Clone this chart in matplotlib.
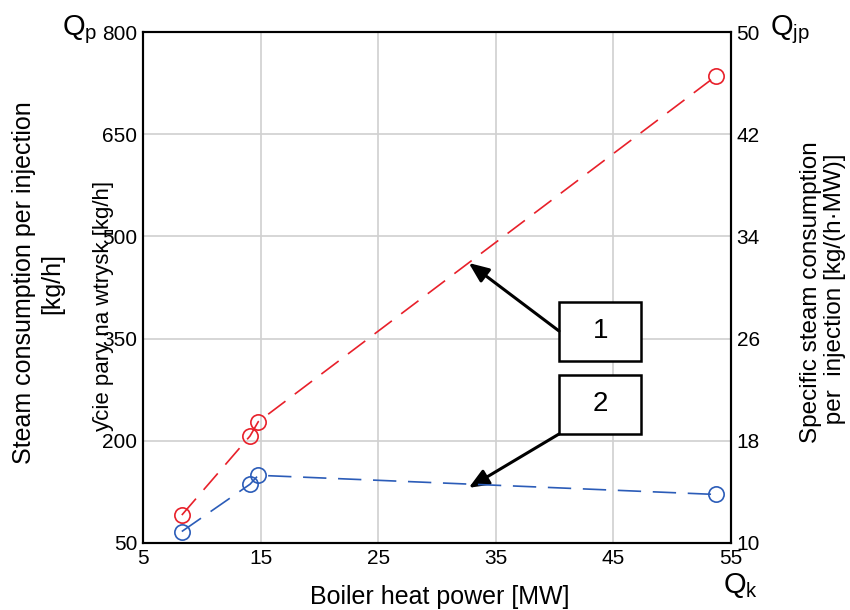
import matplotlib
matplotlib.use("Agg")
import matplotlib.pyplot as plt
from matplotlib.patches import Rectangle

plt.rcParams['font.family'] = ['Liberation Sans', 'DejaVu Sans']
plt.rcParams['mathtext.fontset'] = 'custom'
plt.rcParams['mathtext.rm'] = 'Liberation Sans'

#data
power = [8.3, 14.1, 14.8, 53.7]
steam = [91, 207, 228, 735]
specific = [10.9, 14.6, 15.3, 13.8]

xticks = [5, 15, 25, 35, 45, 55]
yticks_left = [50, 200, 350, 500, 650, 800]
yticks_right = [10, 18, 26, 34, 42, 50]

red = '#e8202a'
blue = '#2b5cb8'

#set up figure
fig = plt.figure(figsize=(8.5, 6.1), dpi=100)
ax = fig.add_axes([143/850, 67/610, 588/850, 511/610])
ax2 = ax.twinx()

#lines
ax.plot(power, steam, color=red, lw=1.2, dashes=(13, 7),
        marker='o', ms=11, mfc='none', mec=red, mew=1.2)
ax2.plot(power, specific, color=blue, lw=1.2, dashes=(14, 7),
         marker='o', ms=11, mfc='none', mec=blue, mew=1.2)

#axes
ax.set_xlim(5, 55)
ax.set_ylim(50, 800)
ax2.set_ylim(10, 50)
ax.set_xticks(xticks)
ax.set_yticks(yticks_left)
ax2.set_yticks(yticks_right)
ax.grid(True, color='#d0d0d0', lw=1.2)
ax.set_axisbelow(True)
ax.tick_params(length=0, labelsize=15, pad=4)
ax2.tick_params(length=0, labelsize=15, pad=4)
for a in (ax, ax2):
    for s in a.spines.values():
        s.set_linewidth(1.5)
        s.set_color('black')

#labels
fig.text(0.045, 1 - 283/610, "Steam consumption per injection\n[kg/h]",
         rotation=90, ha='center', va='center', multialignment='center', fontsize=18)
fig.text(103/850, 1 - 306/610, "ƴcie pary na wtrysk [kg/h]",
         rotation=90, ha='center', va='center', fontsize=16)
fig.text(823/850, 1 - 292/610, "Specific steam consumption\n per  injection [kg/(h·MW)]",
         rotation=90, ha='center', va='center', multialignment='center',
         fontsize=17.5, linespacing=1.1)
fig.text(440/850, 1 - 597/610, "Boiler heat power [MW]",
         ha='center', va='center', fontsize=18)
fig.text(62/850, 1 - 30/610, r"Q$_{\rm p}$", ha='left', va='center', fontsize=21)
fig.text(770/850, 1 - 30/610, r"Q$_{\rm jp}$", ha='left', va='center', fontsize=21)
fig.text(723/850, 1 - 585/610, r"Q$_{\rm k}$", ha='left', va='center', fontsize=21)

#boxes with arrows
boxes = [(0.7075, 0.3562, "1"), (0.7075, 0.2133, "2")]
for bx, by, lab in boxes:
    ax.add_patch(Rectangle((bx, by), 0.1395, 0.1155, transform=ax.transAxes,
                           fill=True, facecolor='white', edgecolor='black', lw=1.8, zorder=5))
    ax.text(bx + 0.07, by + 0.058, lab, transform=ax.transAxes,
            ha='center', va='center', fontsize=20, zorder=6)

arrow = dict(arrowstyle='-|>,head_length=1.2,head_width=0.5', color='black', lw=2.2,
             shrinkA=0, shrinkB=0)
ax.annotate("", xy=(32.7, 461), xycoords='data', xytext=(0.7075, 0.4149),
            textcoords='axes fraction', arrowprops=arrow, zorder=6)
ax.annotate("", xy=(32.7, 131), xycoords='data', xytext=(0.7075, 0.2133),
            textcoords='axes fraction', arrowprops=arrow, zorder=6)

fig.savefig("out.png", dpi=100)
